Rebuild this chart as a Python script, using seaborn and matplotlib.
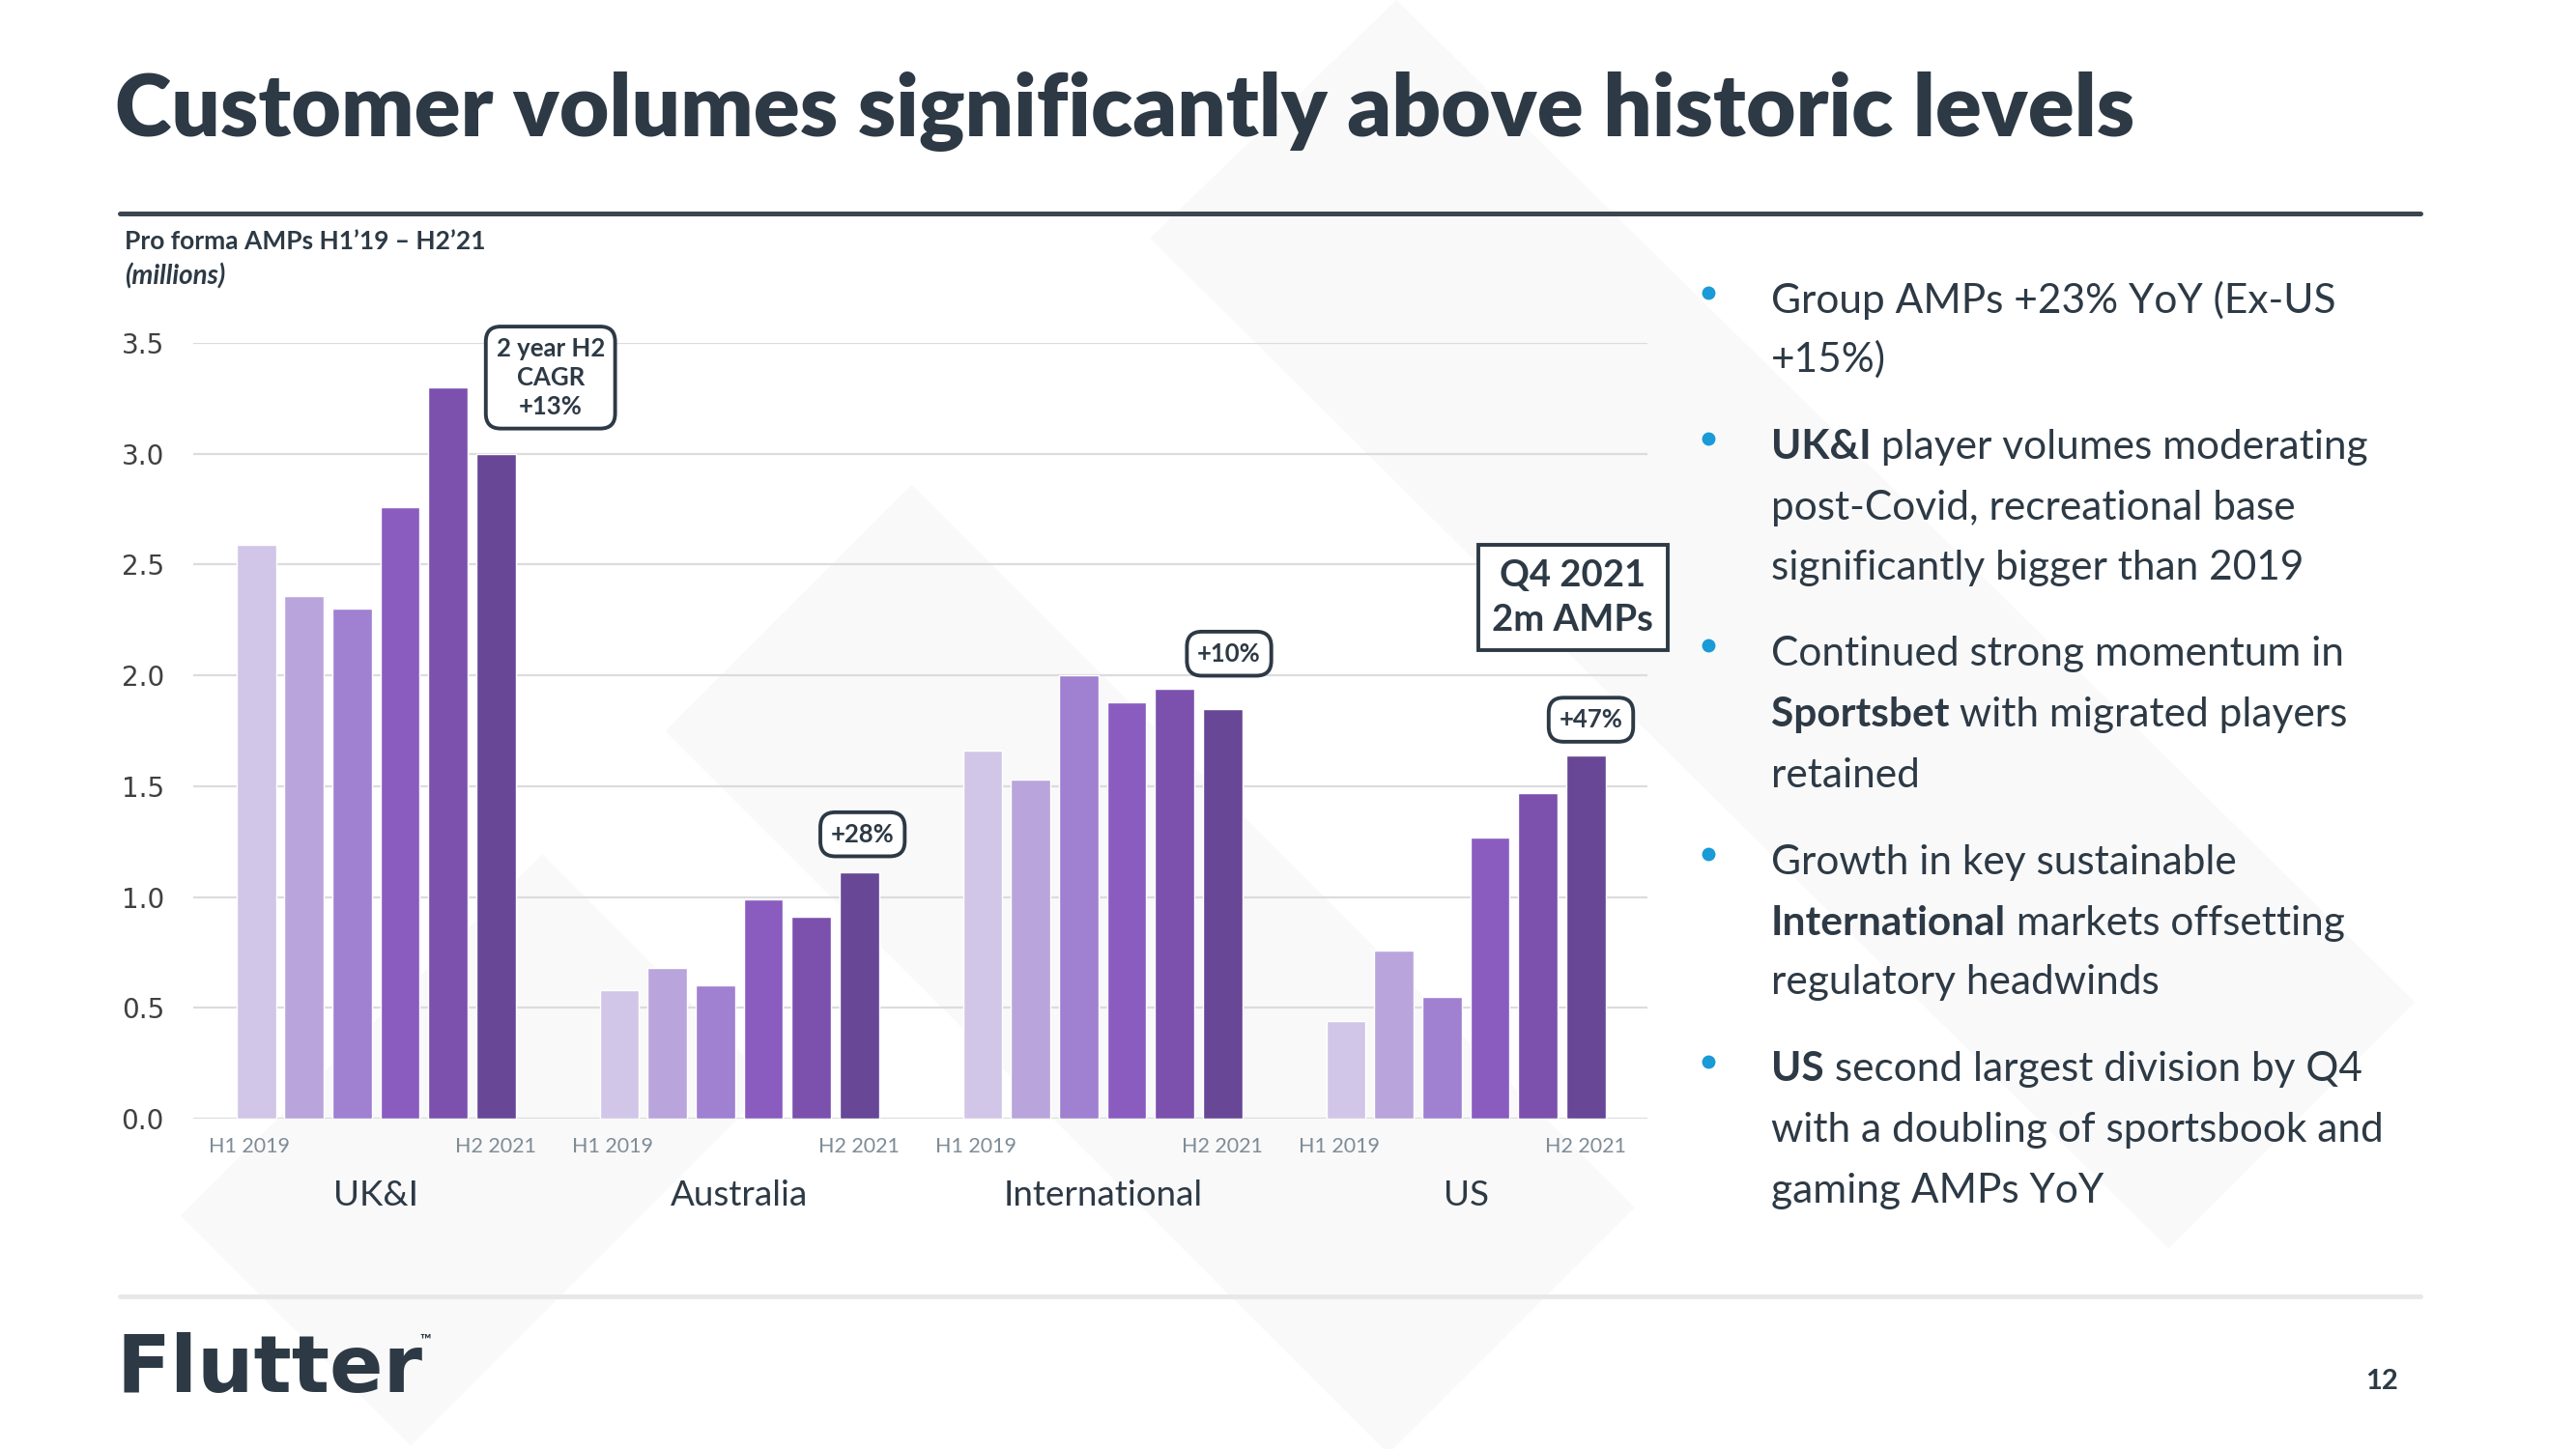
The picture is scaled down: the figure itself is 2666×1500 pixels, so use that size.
import pandas as pd
import matplotlib.pyplot as plt
import seaborn as sns
from matplotlib.patches import Polygon
from matplotlib.lines import Line2D
from matplotlib.transforms import blended_transform_factory

# Données (millions d'AMPs)
regions = ['UK&I', 'Australia', 'International', 'US']
periods = ['H1 2019', 'H2 2019', 'H1 2020', 'H2 2020', 'H1 2021', 'H2 2021']
uki = [2.59, 2.36, 2.30, 2.76, 3.30, 3.00]
australia = [0.58, 0.68, 0.60, 0.99, 0.91, 1.11]
international = [1.66, 1.53, 2.00, 1.88, 1.94, 1.85]
us = [0.44, 0.76, 0.55, 1.27, 1.47, 1.64]
growth_labels = ['2 year H2\nCAGR\n+13%', '+28%', '+10%', '+47%']
bar_colors = ['#d1c6e7', '#b9a5db', '#a080d0', '#8a5cc0', '#7b51ad', '#684796']

DARK = '#2d3a45'
BLUE = '#1a9ad6'

rows = []
for reg, vals in zip(regions, [uki, australia, international, us]):
    for per, v in zip(periods, vals):
        rows.append({'region': reg, 'period': per, 'amps': v})
df = pd.DataFrame(rows)

sns.set_style('white')
plt.rcParams['font.family'] = ['Lato', 'DejaVu Sans']

fig = plt.figure(figsize=(26.66, 15), dpi=100)
fig.patch.set_facecolor('white')


def d2f(x, y):
    # coordonnées de l'image réduite (1568x882) -> fraction de figure
    return x / 1568, 1 - y / 882


# formes de fond très claires
for pts in [[(700, 145), (850, 0), (1470, 610), (1320, 760)],
            [(405, 445), (555, 295), (995, 735), (845, 885)],
            [(110, 740), (330, 520), (470, 660), (250, 880)]]:
    fig.add_artist(Polygon([d2f(*p) for p in pts], closed=True, transform=fig.transFigure,
                           facecolor='#f9f9fa', edgecolor='none', zorder=0))

ax = fig.add_axes([0.0752, 0.228, 0.5644, 0.5353])
ax.set_facecolor('none')
sns.barplot(data=df, x='region', y='amps', hue='period', hue_order=periods,
            palette=bar_colors, saturation=1, width=0.792, gap=0.18,
            legend=False, ax=ax, zorder=3)

ax.set_ylim(0, 3.5)
ax.set_xlim(-0.502, 3.50)
ax.set_yticks([0, 0.5, 1.0, 1.5, 2.0, 2.5, 3.0, 3.5])
ax.set_yticklabels([f'{t:.1f}' for t in ax.get_yticks()], family='DejaVu Sans',
                   fontsize=20, color='#404040')
ax.tick_params(axis='y', length=0, pad=22)
ax.set_xticks([])
ax.set_xlabel('')
ax.set_ylabel('')
ax.yaxis.grid(True, color='#dcdcdc', lw=1.6, zorder=0)
ax.set_axisbelow(True)
for s in ax.spines.values():
    s.set_visible(False)

slot = 0.792 / 6
first_off = -0.396 + slot * 0.5
last_off = -0.396 + slot * 5.5
trans = blended_transform_factory(ax.transData, ax.transAxes)
for i, reg in enumerate(regions):
    ax.text(i + first_off - 0.02, -0.036, 'H1 2019', transform=trans, ha='center',
            va='center', fontsize=15.5, color='#7f8c96')
    ax.text(i + last_off, -0.036, 'H2 2021', transform=trans, ha='center', va='center',
            fontsize=15.5, color='#7f8c96')
    ax.text(i, -0.0996, reg, transform=trans, ha='center', va='center',
            fontsize=26.5, color=DARK)

# encadrés de croissance
box_pos = [(0.48, 3.344), (1.339, 1.283), (2.348, 2.098), (3.344, 1.80)]
for (bx, by), lab in zip(box_pos, growth_labels):
    ax.text(bx, by, lab, ha='center', va='center', fontsize=18.5, fontweight='bold',
            color=DARK, linespacing=1.3, zorder=5,
            bbox=dict(boxstyle='round,pad=0.42,rounding_size=0.6', fc='white',
                      ec=DARK, lw=2.8))
ax.text(3.294, 2.35, 'Q4 2021\n2m AMPs', ha='center', va='center', fontsize=27.5,
        fontweight='bold', color=DARK, linespacing=1.42, zorder=5, clip_on=False,
        bbox=dict(boxstyle='square,pad=0.38', fc='white', ec=DARK, lw=2.8))

# titre et en-tête
x, y = d2f(70, 68)
fig.text(x, y, 'Customer volumes significantly above historic levels', fontsize=64,
         fontweight='heavy', color=DARK, ha='left', va='center')
fig.add_artist(Line2D([0.0466, 0.9396], [1 - 221 / 1500] * 2, transform=fig.transFigure,
                      color='#3c4650', lw=3.6))
x, y = d2f(76, 147)
fig.text(x, y, 'Pro forma AMPs H1’19 – H2’21', fontsize=19, fontweight='bold',
         color=DARK, ha='left', va='center')
x, y = d2f(76, 168)
fig.text(x, y, '(millions)', fontsize=20, fontweight='bold', style='italic',
         color=DARK, ha='left', va='center')

# puces à droite
bullets = [
    [[('', 'Group AMPs +23% YoY (Ex-US')], [('', '+15%)')]],
    [[('UK&I', ' player volumes moderating')], [('', 'post-Covid, recreational base')],
     [('', 'significantly bigger than 2019')]],
    [[('', 'Continued strong momentum in')], [('Sportsbet', ' with migrated players')],
     [('', 'retained')]],
    [[('', 'Growth in key sustainable')], [('International', ' markets offsetting')],
     [('', 'regulatory headwinds')]],
    [[('US', ' second largest division by Q4')], [('', 'with a doubling of sportsbook and')],
     [('', 'gaming AMPs YoY')]],
]
line_y = [[183, 219], [272, 309, 346], [398, 435, 472], [525, 562, 598], [651, 688, 725]]
fig.canvas.draw()
renderer = fig.canvas.get_renderer()
tx = 1078 / 1568
for blines, ys in zip(bullets, line_y):
    bx, by = d2f(1040, ys[0] - 5)
    fig.add_artist(Line2D([bx], [by], marker='o', ms=9, color=BLUE, lw=0,
                          transform=fig.transFigure))
    for parts, ly in zip(blines, ys):
        bold, normal = parts[0]
        _, yy = d2f(0, ly)
        xx = tx
        if bold:
            t = fig.text(xx, yy, bold, fontsize=30.5, fontweight='bold', color=DARK,
                         ha='left', va='center')
            w = t.get_window_extent(renderer).width / fig.bbox.width
            xx += w
        fig.text(xx, yy, normal, fontsize=30.5, color=DARK, ha='left', va='center')

# pied de page
fig.add_artist(Line2D([0.0466, 0.9396], [1 - 1341.5 / 1500] * 2, transform=fig.transFigure,
                      color='#e8e8e8', lw=3.5))
x, y = d2f(71, 834)
fig.text(x, y, 'Flutter', fontsize=59, fontweight='bold', family='DejaVu Sans',
         color=DARK, ha='left', va='center')
x, y = d2f(259, 816)
fig.text(x, y, '™', fontsize=11, fontweight='bold', color=DARK, ha='center', va='center')
x, y = d2f(1450, 841)
fig.text(x, y, '12', fontsize=21, fontweight='bold', color=DARK, ha='center', va='center')

fig.savefig('out.png', dpi=100)
